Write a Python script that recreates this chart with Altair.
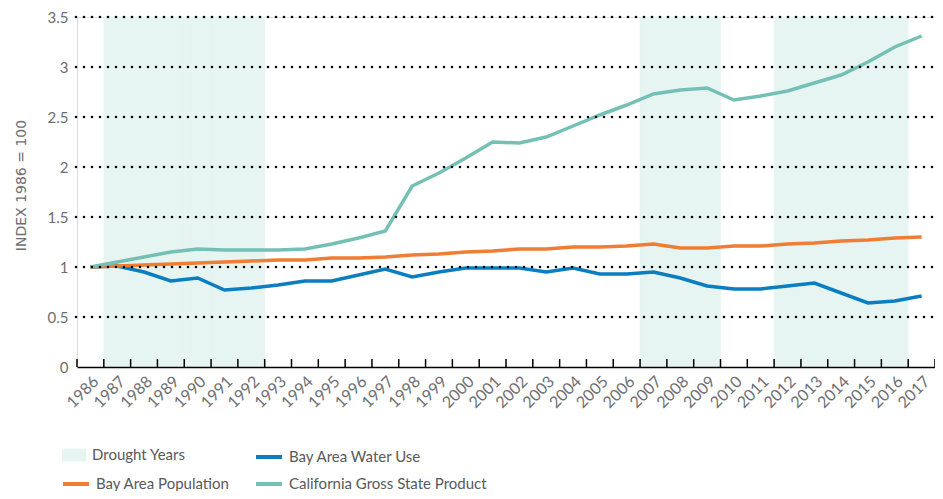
import altair as alt
import pandas as pd

years = list(range(1986, 2018))
water_use = [1.00, 1.01, 0.95, 0.86, 0.89, 0.77, 0.79, 0.82, 0.86, 0.86, 0.92, 0.98, 0.90, 0.95, 0.99, 0.99,
             0.99, 0.95, 0.99, 0.93, 0.93, 0.95, 0.89, 0.81, 0.78, 0.78, 0.81, 0.84, 0.74, 0.64, 0.66, 0.71]
population = [1.00, 1.01, 1.02, 1.03, 1.04, 1.05, 1.06, 1.07, 1.07, 1.09, 1.09, 1.10, 1.12, 1.13, 1.15, 1.16,
              1.18, 1.18, 1.20, 1.20, 1.21, 1.23, 1.19, 1.19, 1.21, 1.21, 1.23, 1.24, 1.26, 1.27, 1.29, 1.30]
gsp = [1.00, 1.05, 1.10, 1.15, 1.18, 1.17, 1.17, 1.17, 1.18, 1.23, 1.29, 1.36, 1.81, 1.94, 2.09, 2.25,
       2.24, 2.30, 2.41, 2.52, 2.62, 2.73, 2.77, 2.79, 2.67, 2.71, 2.76, 2.84, 2.92, 3.05, 3.20, 3.31]
drought_years = [1987, 1988, 1989, 1990, 1991, 1992, 2007, 2008, 2009, 2012, 2013, 2014, 2015, 2016]
y_ticks = [0, 0.5, 1, 1.5, 2, 2.5, 3, 3.5]
grid_values = [0.5, 1, 1.5, 2, 2.5, 3, 3.5]

line_names = [" ", "Bay Area Water Use", "Bay Area Population", "California Gross State Product"]
line_colors = ["transparent", "#0b7dc1", "#ef7d33", "#74c0b6"]
drought_name = "Drought Years"
drought_color = "#e6f5f1"

W, H = 858, 350
FONT = "Lato"
GREY = "#6d6e71"
LEGEND_GREY = "#58595b"

lines_df = pd.DataFrame({
    "year": years * 3,
    "value": water_use + population + gsp,
    "series": ["Bay Area Water Use"] * len(years) + ["Bay Area Population"] * len(years)
              + ["California Gross State Product"] * len(years),
})
drought_df = pd.DataFrame({"year": drought_years, "series": [drought_name] * len(drought_years)})
ticks_df = pd.DataFrame({"year": years})
last_df = pd.DataFrame({"year": [years[-1]]})
grid_df = pd.DataFrame({"g": grid_values})

x_scale = alt.Scale(type="band", domain=years, paddingInner=0, paddingOuter=0)
y_scale = alt.Scale(domain=[0, 3.5], nice=False)

common_legend = dict(title=None, orient="none", legendX=-16, legendY=425, padding=0,
                     labelFont=FONT, labelFontSize=15, labelColor=LEGEND_GREY, labelOffset=5,
                     labelLimit=400, symbolSize=676)

fill_legend = alt.Legend(symbolType="M-0.92,-0.5H0.92V0.5H-0.92Z", symbolStrokeWidth=0, **common_legend)
stroke_legend = alt.Legend(columns=2, direction="horizontal", columnPadding=18, rowPadding=4,
                           symbolType="stroke", symbolStrokeWidth=4, **common_legend)

x_axis = alt.Axis(title=None, labelAngle=-45, labelFont=FONT, labelFontSize=16, labelColor=GREY,
                  ticks=False, grid=False, domainColor="black", domainWidth=1.5, labelPadding=6)
y_axis = alt.Axis(title="INDEX 1986 = 100", values=y_ticks, format="~g", grid=False, domain=False,
                  ticks=False, labelFont=FONT, labelFontSize=15, labelColor=GREY, labelPadding=9,
                  titleFont="DejaVu Sans", titleFontSize=14, titleFontWeight="normal", titleColor=GREY,
                  titleX=-56, titleY=168, titleAngle=-90, titleAlign="center", titleBaseline="middle")

drought = alt.Chart(drought_df).mark_rect(stroke=drought_color, strokeWidth=0.6).encode(
    x=alt.X("year:O", scale=x_scale, axis=x_axis),
    y=alt.datum(3.5, scale=y_scale, axis=y_axis),
    y2=alt.datum(0),
    fill=alt.Fill("series:N", scale=alt.Scale(domain=[drought_name], range=[drought_color]),
                  legend=fill_legend),
)

lines = alt.Chart(lines_df).mark_line(strokeWidth=3.5).encode(
    x=alt.X("year:O", scale=x_scale, bandPosition=0.5),
    y=alt.Y("value:Q", scale=y_scale),
    stroke=alt.Stroke("series:N", scale=alt.Scale(domain=line_names, range=line_colors),
                      legend=stroke_legend),
    order=alt.Order("year:O"),
)

grid = alt.Chart(grid_df).mark_rule(color="black", strokeWidth=2.6, strokeDash=[0, 8], strokeCap="round").encode(
    y=alt.Y("g:Q", scale=y_scale),
    x=alt.value(-1),
    x2=alt.value(W),
)

ticks = alt.Chart(ticks_df).mark_rule(color="black", strokeWidth=1.5).encode(
    x=alt.X("year:O", scale=x_scale, bandPosition=0),
    y=alt.value(H - 8),
    y2=alt.value(H),
)
last_tick = alt.Chart(last_df).mark_rule(color="black", strokeWidth=1.5).encode(
    x=alt.X("year:O", scale=x_scale, bandPosition=1),
    y=alt.value(H - 8),
    y2=alt.value(H),
)

chart = alt.layer(drought, lines, grid, ticks, last_tick).properties(
    width=W, height=H,
    autosize=alt.AutoSizeParams(type="none"),
    padding={"left": 69, "top": 9, "right": 0, "bottom": 124},
).configure_view(stroke=None).configure(background="white")

chart.save("out.html", embed_options={"renderer": "svg", "actions": False})
